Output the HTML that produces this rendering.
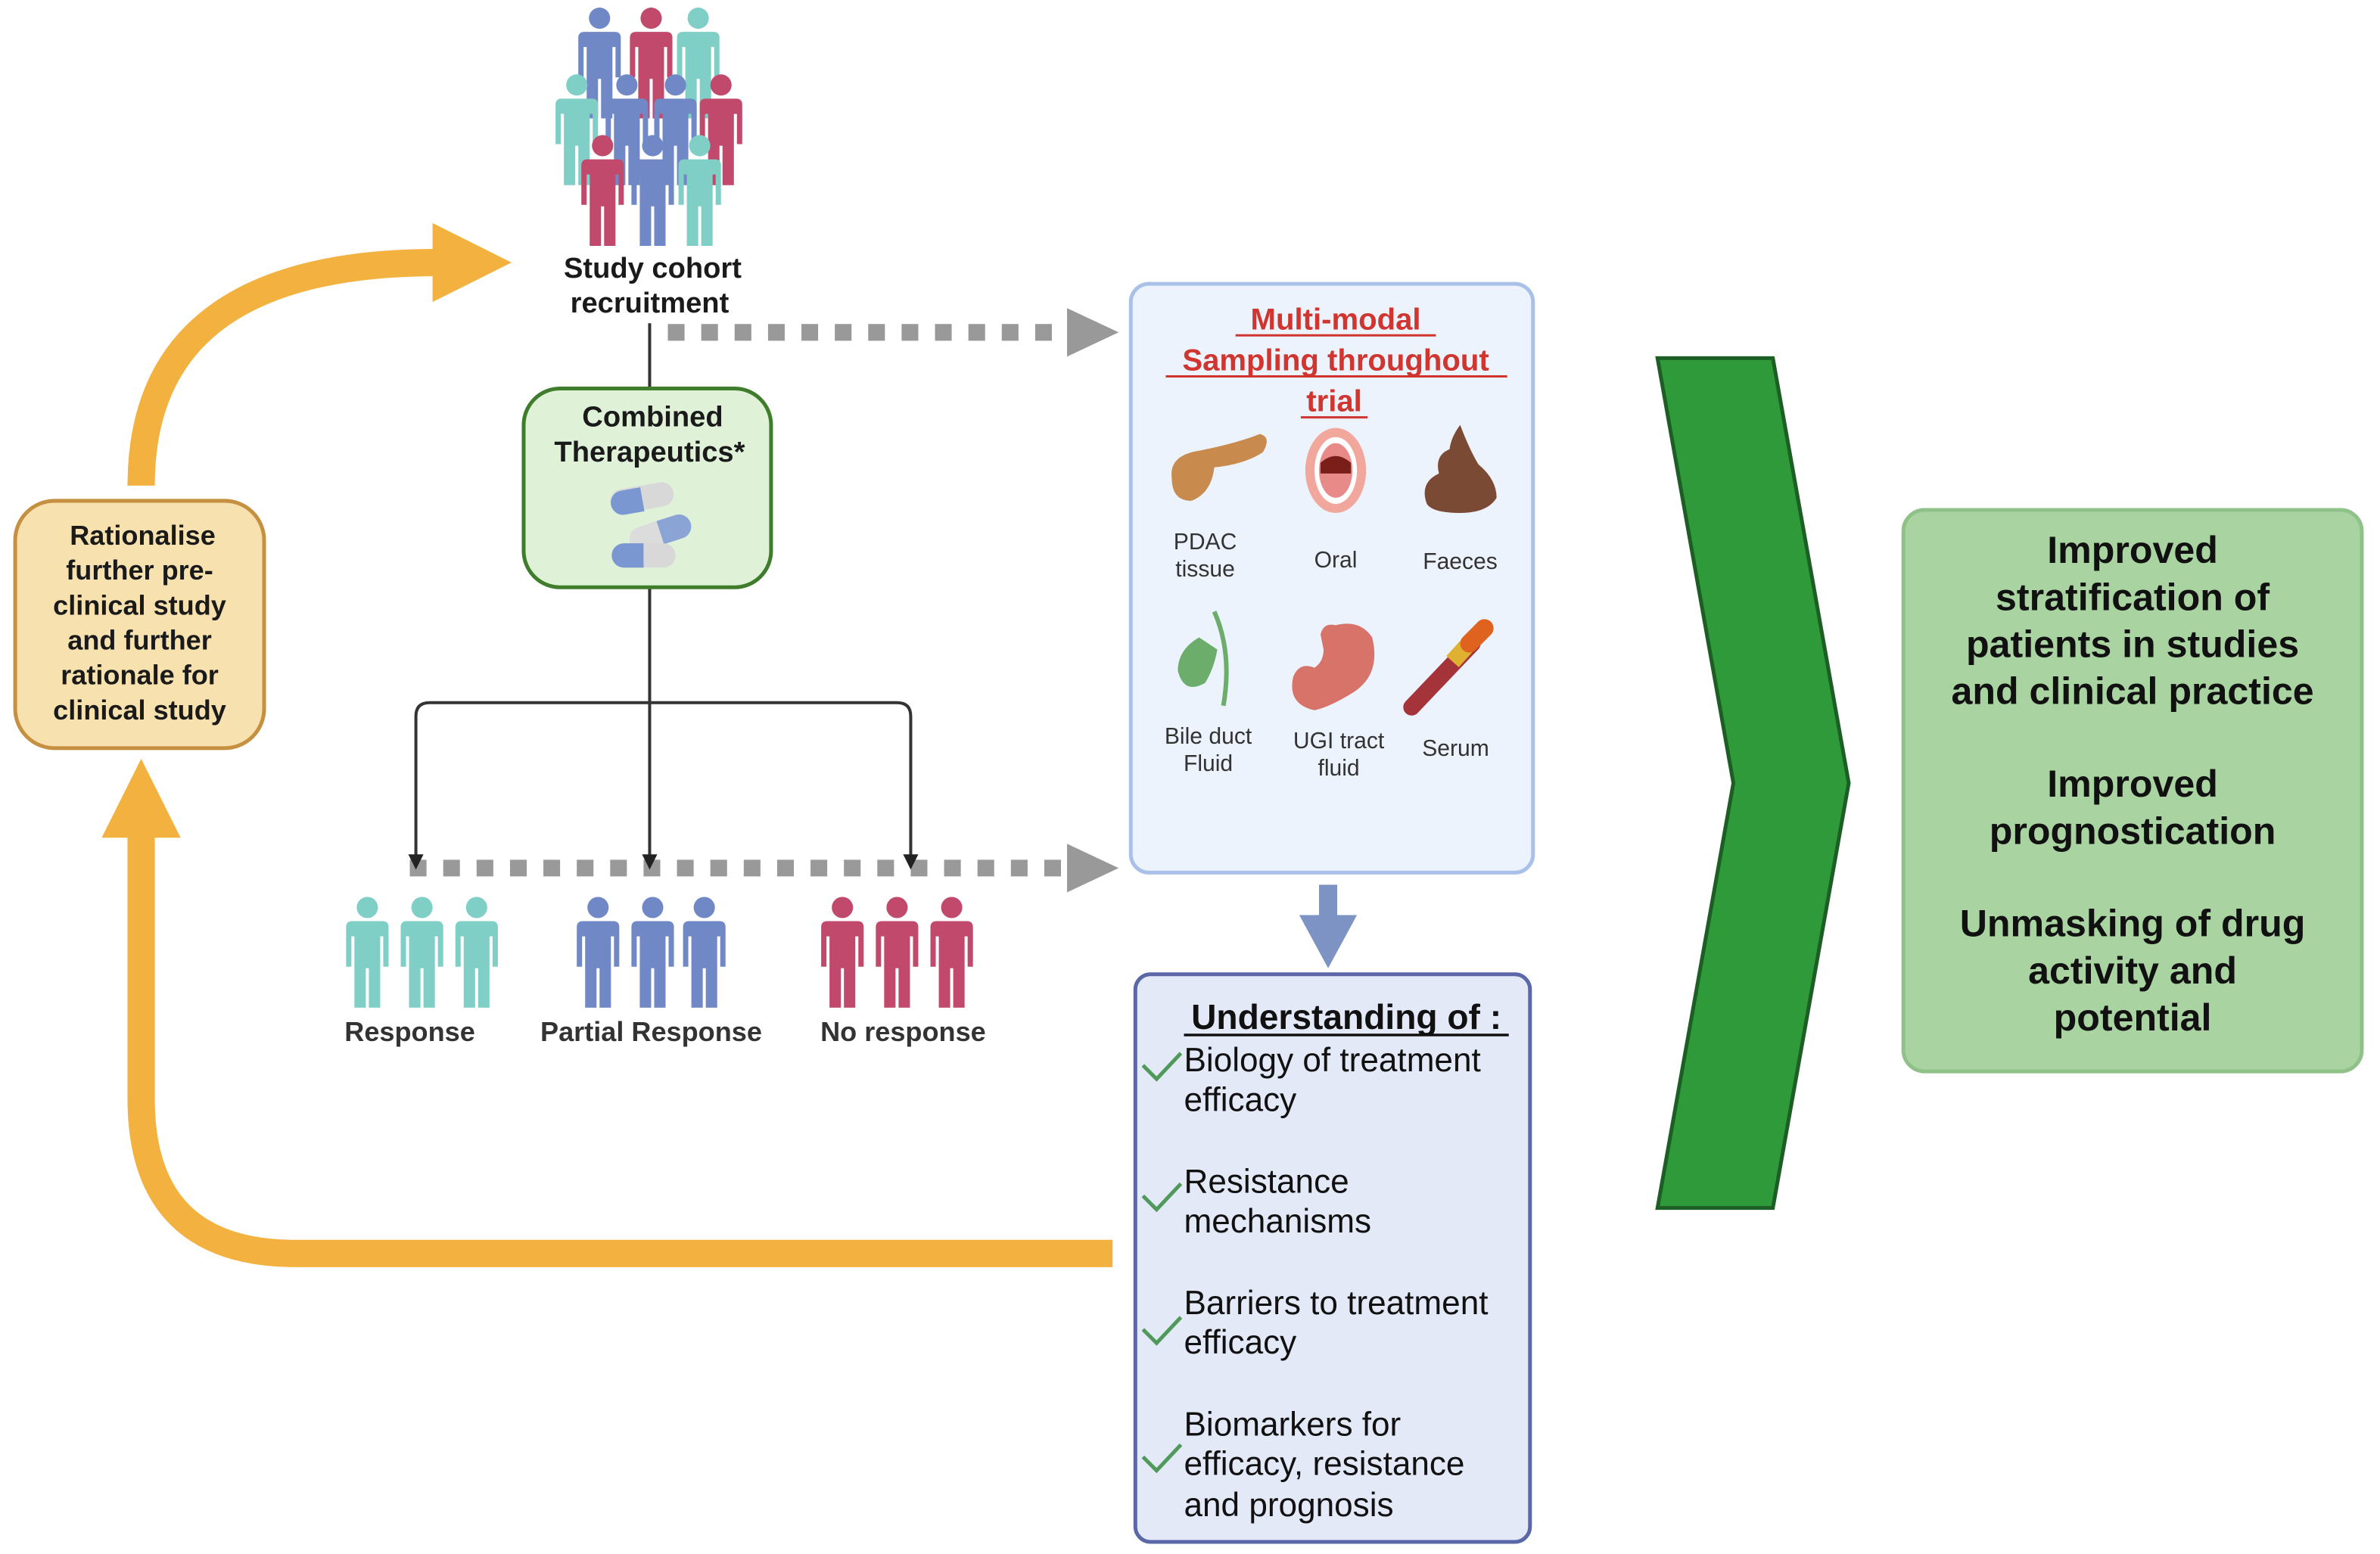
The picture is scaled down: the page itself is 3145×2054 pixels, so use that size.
<!DOCTYPE html>
<html><head><meta charset="utf-8"><style>
html,body{margin:0;padding:0;background:#fff;}
svg{display:block;}
text{font-family:"Liberation Sans",sans-serif;}
</style></head><body>
<svg width="3145" height="2054" viewBox="0 0 1568 1024" preserveAspectRatio="none" xmlns="http://www.w3.org/2000/svg">
<defs>
<symbol id="p" viewBox="0 0 28 73" overflow="visible">
<circle cx="14" cy="7" r="7"/>
<path d="M4,16 H24 Q28,16 28,20 V46 H24.5 V26 H22.5 V73 H15 V47 H13 V73 H5.5 V26 H3.5 V46 H0 V20 Q0,16 4,16 Z"/>
</symbol>
</defs>
<rect width="1568" height="1024" fill="#fff"/>

<g>
<use href="#p" x="381" y="5" width="28" height="73" fill="#7188c6"/>
<use href="#p" x="415" y="5" width="28" height="73" fill="#c14a6c"/>
<use href="#p" x="446" y="5" width="28" height="73" fill="#7fcfc6"/>
<use href="#p" x="366" y="49" width="28" height="73" fill="#7fcfc6"/>
<use href="#p" x="399" y="49" width="28" height="73" fill="#7188c6"/>
<use href="#p" x="431" y="49" width="28" height="73" fill="#7188c6"/>
<use href="#p" x="461" y="49" width="28" height="73" fill="#c14a6c"/>
<use href="#p" x="383" y="89" width="28" height="73" fill="#c14a6c"/>
<use href="#p" x="416" y="89" width="28" height="73" fill="#7188c6"/>
<use href="#p" x="447" y="89" width="28" height="73" fill="#7fcfc6"/>
</g>
<text x="430" y="183" font-size="19" font-weight="bold" text-anchor="middle" fill="#1a1a1a">Study cohort</text>
<text x="428" y="206" font-size="19" font-weight="bold" text-anchor="middle" fill="#1a1a1a">recruitment</text>

<line x1="440" y1="219" x2="702" y2="219" stroke="#999" stroke-width="11" stroke-dasharray="11,11"/>
<polygon points="703,203 737,219 703,235" fill="#999"/>
<line x1="270" y1="572" x2="702" y2="572" stroke="#999" stroke-width="11" stroke-dasharray="11,11"/>
<polygon points="703,556 737,572 703,588" fill="#999"/>

<line x1="428" y1="213" x2="428" y2="256" stroke="#333" stroke-width="2"/>
<line x1="428" y1="386" x2="428" y2="566" stroke="#333" stroke-width="2"/>
<path d="M274,566 V472 Q274,463 283,463 H591 Q600,463 600,472 V566" fill="none" stroke="#333" stroke-width="2"/>
<polygon points="269,563 279,563 274,573" fill="#222"/>
<polygon points="423,563 433,563 428,573" fill="#222"/>
<polygon points="595,563 605,563 600,573" fill="#222"/>

<rect x="345" y="256" width="163" height="131" rx="24" fill="#dff2d8" stroke="#3f7d2c" stroke-width="2.5"/>
<text x="430" y="281" font-size="19" font-weight="bold" text-anchor="middle" fill="#1a1a1a">Combined</text>
<text x="428" y="304" font-size="19" font-weight="bold" text-anchor="middle" fill="#1a1a1a">Therapeutics*</text>
<g>
<rect x="402" y="320" width="42" height="16" rx="8" fill="#d8d8d8" transform="rotate(-10 423 328)"/>
<path d="M410,321 H423 V337 H410 A8,8 0 0 1 410,321 Z" fill="#7b97d2" transform="rotate(-10 423 328)"/>
<rect x="414" y="343" width="42" height="16" rx="8" fill="#dcdcdc" transform="rotate(-18 435 351)"/>
<path d="M435,343 H448 A8,8 0 0 1 448,359 H435 Z" fill="#8aa4d6" transform="rotate(-18 435 351)"/>
<rect x="403" y="358" width="42" height="16" rx="8" fill="#d8d8d8"/>
<path d="M411,358 H424 V374 H411 A8,8 0 0 1 411,358 Z" fill="#7b97d2"/>
</g>

<use href="#p" x="228" y="591" width="28" height="73" fill="#7fcfc6"/>
<use href="#p" x="264" y="591" width="28" height="73" fill="#7fcfc6"/>
<use href="#p" x="300" y="591" width="28" height="73" fill="#7fcfc6"/>
<use href="#p" x="380" y="591" width="28" height="73" fill="#7188c6"/>
<use href="#p" x="416" y="591" width="28" height="73" fill="#7188c6"/>
<use href="#p" x="450" y="591" width="28" height="73" fill="#7188c6"/>
<use href="#p" x="541" y="591" width="28" height="73" fill="#c14a6c"/>
<use href="#p" x="577" y="591" width="28" height="73" fill="#c14a6c"/>
<use href="#p" x="613" y="591" width="28" height="73" fill="#c14a6c"/>
<text x="270" y="686" font-size="18" font-weight="bold" text-anchor="middle" fill="#333">Response</text>
<text x="429" y="686" font-size="18" font-weight="bold" text-anchor="middle" fill="#333">Partial Response</text>
<text x="595" y="686" font-size="18" font-weight="bold" text-anchor="middle" fill="#333">No response</text>

<rect x="745" y="187" width="265" height="388" rx="12" fill="#ecf3fc" stroke="#a9c1e8" stroke-width="2.5"/>
<g font-size="20" font-weight="bold" fill="#d0352f" text-anchor="middle">
<text x="880" y="217">Multi-modal</text>
<text x="880" y="244">Sampling throughout</text>
<text x="879" y="271">trial</text>
</g>
<g stroke="#d0352f" stroke-width="1.5">
<line x1="814" y1="221" x2="946" y2="221"/>
<line x1="768" y1="248" x2="993" y2="248"/>
<line x1="857" y1="275" x2="901" y2="275"/>
</g>
<path d="M772,315 Q770,300 790,297 Q815,292 830,286 Q838,288 832,298 Q820,306 800,308 Q798,325 785,330 Q772,330 772,315 Z" fill="#c98b4d"/>
<ellipse cx="880" cy="310" rx="20" ry="28" fill="#f1a79c"/>
<ellipse cx="880" cy="310" rx="14" ry="22" fill="#fff"/>
<ellipse cx="880" cy="310" rx="11" ry="18" fill="#e88a88"/>
<path d="M870,305 Q880,296 890,305 V312 H870 Z" fill="#7a1e1a"/>
<path d="M940,332 Q935,318 948,312 Q945,300 955,296 Q956,288 962,280 Q968,296 974,306 Q986,316 986,328 Q980,338 962,338 Q944,338 940,332 Z" fill="#7b4a35"/>
<path d="M790,420 Q776,428 776,442 Q780,458 794,450 Q800,440 802,428 Z" fill="#6cad6c"/>
<path d="M800,403 Q812,430 806,465" fill="none" stroke="#6cad6c" stroke-width="3"/>
<path d="M870,418 Q872,410 880,412 Q896,408 904,420 Q910,444 892,456 Q876,466 866,468 Q848,464 852,446 Q856,436 866,440 Q872,436 872,428 Z" fill="#d8736a"/>
<path d="M930,466 L970,424" stroke="#a5333a" stroke-width="11" stroke-linecap="round"/>
<path d="M957,436 L966,426" stroke="#e0b030" stroke-width="11"/>
<path d="M968,424 L978,414" stroke="#e0621f" stroke-width="12" stroke-linecap="round"/>
<g font-size="15" fill="#333" text-anchor="middle">
<text x="794" y="362">PDAC</text><text x="794" y="380">tissue</text>
<text x="880" y="374">Oral</text>
<text x="962" y="375">Faeces</text>
<text x="796" y="490">Bile duct</text><text x="796" y="508">Fluid</text>
<text x="882" y="493">UGI tract</text><text x="882" y="511">fluid</text>
<text x="959" y="498">Serum</text>
</g>

<rect x="869" y="583" width="12" height="22" fill="#7d93c4"/>
<polygon points="856,603 894,603 875,638" fill="#7d93c4"/>

<rect x="748" y="642" width="260" height="374" rx="10" fill="#e4e9f8" stroke="#5a68a8" stroke-width="2.5"/>
<text x="887" y="678" font-size="23" font-weight="bold" text-anchor="middle" fill="#111">Understanding of :</text>
<line x1="780" y1="682" x2="994" y2="682" stroke="#111" stroke-width="1.8"/>
<g font-size="22" fill="#111">
<text x="780" y="706">Biology of treatment</text><text x="780" y="732">efficacy</text>
<text x="780" y="786">Resistance</text><text x="780" y="812">mechanisms</text>
<text x="780" y="866">Barriers to treatment</text><text x="780" y="892">efficacy</text>
<text x="780" y="946">Biomarkers for</text><text x="780" y="972">efficacy, resistance</text><text x="780" y="999">and prognosis</text>
</g>
<g fill="none" stroke="#4f9a5a" stroke-width="2.5">
<path d="M753,702 L762,711 L778,694"/>
<path d="M753,788 L762,797 L778,780"/>
<path d="M753,876 L762,885 L778,868"/>
<path d="M753,960 L762,969 L778,952"/>
</g>

<path d="M733,826 H195 Q93,826 93,724 V548" fill="none" stroke="#f3b23f" stroke-width="18"/>
<polygon points="67,552 119,552 93,500" fill="#f3b23f"/>
<path d="M93,320 Q93,173 288,173" fill="none" stroke="#f3b23f" stroke-width="18"/>
<polygon points="285,147 285,199 337,173" fill="#f3b23f"/>

<rect x="10" y="330" width="164" height="163" rx="26" fill="#f7e1ae" stroke="#c59040" stroke-width="2.5"/>
<g font-size="18" font-weight="bold" fill="#1a1a1a" text-anchor="middle">
<text x="94" y="359">Rationalise</text>
<text x="92" y="382">further pre-</text>
<text x="92" y="405">clinical study</text>
<text x="92" y="428">and further</text>
<text x="92" y="451">rationale for</text>
<text x="92" y="474">clinical study</text>
</g>

<polygon points="1092,236 1168,236 1218,516 1168,796 1092,796 1142,516" fill="#2e9a39" stroke="#1d5e25" stroke-width="2.5"/>

<rect x="1254" y="336" width="302" height="370" rx="14" fill="#a9d4a1" stroke="#90c189" stroke-width="2.5"/>
<g font-size="25" font-weight="bold" fill="#111" text-anchor="middle">
<text x="1405" y="371">Improved</text>
<text x="1405" y="402">stratification of</text>
<text x="1405" y="433">patients in studies</text>
<text x="1405" y="464">and clinical practice</text>
<text x="1405" y="525">Improved</text>
<text x="1405" y="556">prognostication</text>
<text x="1405" y="617">Unmasking of drug</text>
<text x="1405" y="648">activity and</text>
<text x="1405" y="679">potential</text>
</g>
</svg>
</body></html>
